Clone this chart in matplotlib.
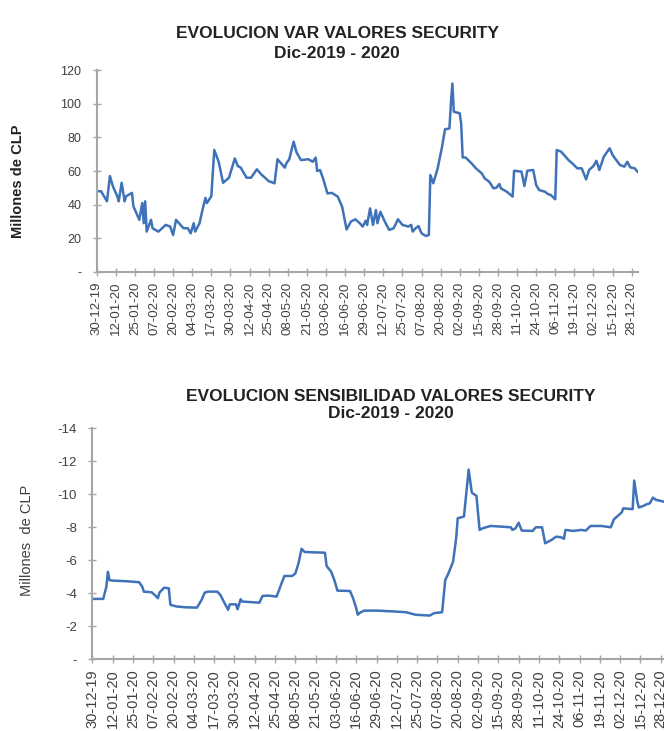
import pandas as pd
import matplotlib
matplotlib.use("Agg")
import matplotlib.pyplot as plt

plt.rcParams['font.family'] = ['Liberation Sans', 'DejaVu Sans']

start = pd.Timestamp('2019-12-30')

tick_labels = ['30-12-19', '12-01-20', '25-01-20', '07-02-20', '20-02-20', '04-03-20',
               '17-03-20', '30-03-20', '12-04-20', '25-04-20', '08-05-20', '21-05-20',
               '03-06-20', '16-06-20', '29-06-20', '12-07-20', '25-07-20', '07-08-20',
               '20-08-20', '02-09-20', '15-09-20', '28-09-20', '11-10-20', '24-10-20',
               '06-11-20', '19-11-20', '02-12-20', '15-12-20', '28-12-20']

# VaR, dias desde 30-12-2019 y millones de CLP
var_days = [0, 3, 7, 9, 11, 14, 15, 17, 19, 20, 24, 25, 28, 29, 31, 32, 33, 34, 37, 38,
            42, 47, 50, 52, 54, 57, 59, 62, 64, 66, 67, 70, 71, 72, 74, 75, 78, 80, 83, 86,
            90, 94, 96, 98, 102, 105, 109, 112, 117, 121, 123, 126, 128, 129, 131, 134, 136, 139, 144, 147,
            149, 150, 152, 154, 157, 160, 164, 167, 170, 173, 176, 179, 181, 183, 184, 186, 188, 190, 191, 193,
            196, 199, 202, 205, 208, 212, 214, 215, 217, 219, 221, 224, 226, 227, 229, 232, 233, 235, 237, 240,
            241, 242, 243, 247, 248, 249, 251, 255, 258, 262, 264, 267, 270, 272, 274, 275, 279, 283, 284, 289,
            291, 293, 297, 299, 301, 305, 307, 309, 312, 313, 316, 321, 324, 327, 330, 333, 335, 338, 340, 342,
            345, 349, 351, 356, 359, 361, 363, 366, 368]
var_vals = [48, 48, 42, 57, 51, 45, 42, 53, 42, 45, 47, 39, 33, 31, 41, 29, 42, 24, 31, 26,
            24, 28, 27, 22, 31, 28, 26, 26, 23, 29, 24, 29, 33, 37, 44, 41, 45, 72.5, 65.5, 53,
            56, 67.5, 63, 62, 56, 56, 61, 58, 54, 52.7, 67, 64, 62, 64.5, 67, 77.4, 71, 66.5, 67, 65.5,
            68, 60, 60.6, 55.6, 46.7, 47, 44.8, 38.8, 25.3, 30, 31.3, 29, 27, 30.5, 28, 37.8, 28, 36.8, 29, 35.8,
            30, 25, 26, 31.3, 28, 27, 28, 24, 26, 27.3, 23, 21.4, 22, 57.6, 52.7, 61.6, 66, 74.5, 84.8, 85.3,
            100, 112, 95.2, 94.3, 88, 68.1, 68, 64.6, 61.6, 58.6, 55.6, 53.7, 49.7, 50.1, 52.3, 49.7, 47.7, 44.8, 60.2, 59.6,
            51.1, 60.2, 60.6, 51.7, 48.7, 47.7, 46.3, 45.7, 43.2, 72.5, 71.5, 66.5, 64.2, 61.6, 61.6, 55, 60.6, 63, 66.1, 60.6,
            68.5, 73.5, 69.5, 63.6, 62.6, 65.5, 62.2, 61.6, 59.6]

# Sensibilidad, millones de CLP
sens_days = [0, 7, 9, 10, 11, 13, 22, 30, 32, 33, 38, 40, 42, 43, 46, 49, 50, 54, 60, 67,
             70, 72, 74, 80, 82, 85, 87, 88, 92, 93, 95, 96, 107, 109, 113, 118, 120, 123, 128, 130,
             132, 134, 136, 149, 150, 153, 155, 157, 165, 167, 169, 170, 171, 174, 182, 193, 201, 207, 216, 219,
             224, 226, 228, 231, 233, 234, 238, 241, 243, 246, 248, 250, 255, 262, 268, 269, 271, 273, 275, 282,
             284, 288, 290, 294, 297, 300, 302, 303, 308, 313, 316, 319, 326, 332, 334, 336, 339, 340, 346, 347,
             349, 350, 353, 355, 357, 359, 361, 364, 368]
sens_vals = [-3.66, -3.66, -4.4, -5.3, -4.8, -4.77, -4.73, -4.67, -4.4, -4.1, -4.06, -3.9, -3.7, -4.04, -4.34, -4.3, -3.3, -3.2, -3.15, -3.13,
             -3.6, -4.04, -4.1, -4.1, -3.9, -3.35, -3.0, -3.33, -3.33, -3.03, -3.64, -3.5, -3.43, -3.84, -3.86, -3.8, -4.3, -5.05, -5.05, -5.2,
             -5.8, -6.7, -6.5, -6.46, -5.66, -5.3, -4.8, -4.16, -4.14, -3.7, -3.1, -2.7, -2.8, -2.95, -2.95, -2.9, -2.85, -2.7, -2.65, -2.8,
             -2.85, -4.8, -5.2, -5.9, -7.33, -8.55, -8.65, -11.5, -10.1, -9.9, -7.84, -7.94, -8.08, -8.04, -8.0, -7.84, -7.94, -8.28, -7.8, -7.78,
             -8.0, -8.0, -7.03, -7.23, -7.43, -7.4, -7.3, -7.84, -7.78, -7.84, -7.8, -8.08, -8.08, -8.0, -8.48, -8.65, -8.9, -9.15, -9.1, -10.83,
             -9.56, -9.2, -9.3, -9.4, -9.45, -9.8, -9.66, -9.6, -9.5]

var_ticks = [0, 20, 40, 60, 80, 100, 120]
var_tick_labels = ['-', '20', '40', '60', '80', '100', '120']
sens_ticks = [0, -2, -4, -6, -8, -10, -12, -14]
sens_tick_labels = ['-', '-2', '-4', '-6', '-8', '-10', '-12', '-14']

blue = '#3F72B8'
axis_gray = '#A6A6A6'
text_gray = '#404040'

tick_dates = pd.date_range(start, periods=len(tick_labels), freq='13D')


def to_dates(days):
    return start + pd.to_timedelta(days, unit='D')


def style_axes(ax, xsize, ysize):
    for side in ['top', 'right']:
        ax.spines[side].set_visible(False)
    for side in ['left', 'bottom']:
        ax.spines[side].set_color(axis_gray)
        ax.spines[side].set_linewidth(1.5)
    ax.tick_params(axis='both', direction='inout', length=6, width=1, color=axis_gray,
                   labelcolor=text_gray)
    ax.tick_params(axis='y', labelsize=ysize, pad=8)
    ax.tick_params(axis='x', labelsize=xsize, pad=4)
    ax.set_xticks(tick_dates)
    ax.set_xticklabels(tick_labels, rotation=90)


fig = plt.figure(figsize=(6.64, 7.31), dpi=100)

# grafico VaR
ax1 = fig.add_axes([0.1456, 0.6279, 0.8146, 0.2763])
ax1.plot(to_dates(var_days), var_vals, color=blue, lw=1.8)
ax1.set_ylim(0, 120)
ax1.set_xlim(start, to_dates(368))
ax1.set_yticks(var_ticks)
ax1.set_yticklabels(var_tick_labels)
style_axes(ax1, 9.5, 9)
fig.text(337 / 664, 1 - 33 / 731, 'EVOLUCION VAR VALORES SECURITY', ha='center', va='center',
         fontsize=12.5, fontweight='bold', color='#222222')
fig.text(337 / 664, 1 - 53 / 731, 'Dic-2019 - 2020', ha='center', va='center',
         fontsize=12.5, fontweight='bold', color='#222222')
fig.text(18 / 664, 1 - 181 / 731, 'Millones de CLP', rotation=90, ha='center', va='center',
         fontsize=10.5, fontweight='bold', color='#222222')

# grafico sensibilidad
ax2 = fig.add_axes([0.139, 0.0981, 0.8655, 0.316])
ax2.plot(to_dates(sens_days), sens_vals, color=blue, lw=1.8)
ax2.set_ylim(0, -14)
ax2.set_xlim(start, to_dates(368))
ax2.set_yticks(sens_ticks)
ax2.set_yticklabels(sens_tick_labels)
style_axes(ax2, 10.5, 9.5)
fig.text(391 / 664, 1 - 396 / 731, 'EVOLUCION SENSIBILIDAD VALORES SECURITY', ha='center', va='center',
         fontsize=12.5, fontweight='bold', color='#222222')
fig.text(391 / 664, 1 - 414 / 731, 'Dic-2019 - 2020', ha='center', va='center',
         fontsize=12.5, fontweight='bold', color='#222222')
fig.text(27 / 664, 1 - 540 / 731, 'Millones  de CLP', rotation=90, ha='center', va='center',
         fontsize=10.5, color=text_gray)

fig.savefig('out.png', dpi=100)
